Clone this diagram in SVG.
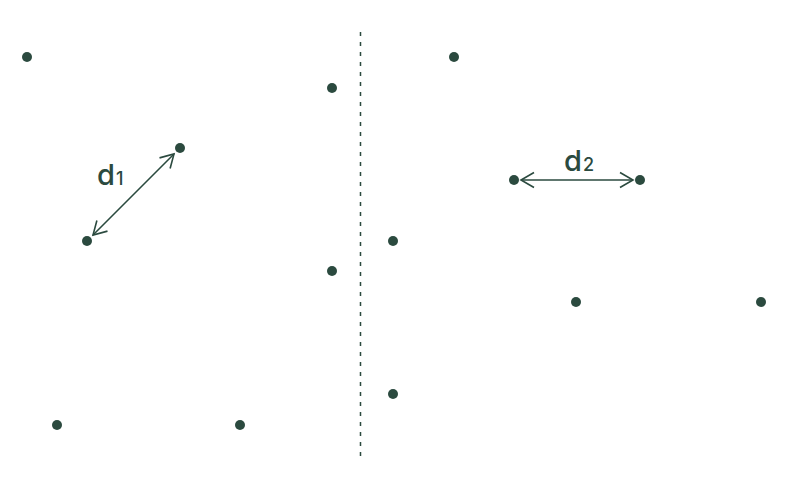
<svg xmlns="http://www.w3.org/2000/svg" width="804" height="486" viewBox="0 0 804 486">
<style>
.dot{fill:#2b4a3f}
.conn{stroke:#2b4a3f;stroke-width:1.6;fill:none}
.lbl{font-family:Inter,"Liberation Sans",sans-serif;font-size:29px;font-weight:500;fill:#2b4a3f}
.sub{font-size:18px}
</style>
<defs>
<marker id="chev" viewBox="-15 -10 17 20" markerWidth="17" markerHeight="20" refX="0" refY="0" orient="auto-start-reverse" markerUnits="userSpaceOnUse">
<path d="M-13,-7.5 L0,0 L-13,7.5" fill="none" stroke="#2b4a3f" stroke-width="1.6"/>
</marker>
</defs>
<rect width="804" height="486" fill="#ffffff"/>
<g id="divider">
<line x1="360.5" y1="32" x2="360.5" y2="458" stroke="#2b4a3f" stroke-width="1.5" stroke-dasharray="4 6"/>
</g>
<g id="connectors">
<line class="conn" x1="93" y1="235" x2="174" y2="154" marker-start="url(#chev)" marker-end="url(#chev)"/>
<line class="conn" x1="521" y1="180" x2="633" y2="180" marker-start="url(#chev)" marker-end="url(#chev)"/>
</g>
<g id="labels">
<text class="lbl" x="97" y="185">d<tspan class="sub" dx="1">1</tspan></text>
<text class="lbl" x="564" y="171">d<tspan class="sub" dx="1">2</tspan></text>
</g>
<g id="p1"><circle class="dot" cx="27" cy="57" r="5"/></g>
<g id="p2"><circle class="dot" cx="332" cy="88" r="5"/></g>
<g id="p3"><circle class="dot" cx="180" cy="148" r="5"/></g>
<g id="p4"><circle class="dot" cx="87" cy="241" r="5"/></g>
<g id="p5"><circle class="dot" cx="332" cy="271" r="5"/></g>
<g id="p6"><circle class="dot" cx="57" cy="425" r="5"/></g>
<g id="p7"><circle class="dot" cx="240" cy="425" r="5"/></g>
<g id="q1"><circle class="dot" cx="454" cy="57" r="5"/></g>
<g id="q2"><circle class="dot" cx="514" cy="180" r="5"/></g>
<g id="q3"><circle class="dot" cx="640" cy="180" r="5"/></g>
<g id="q4"><circle class="dot" cx="393" cy="241" r="5"/></g>
<g id="q5"><circle class="dot" cx="576" cy="302" r="5"/></g>
<g id="q6"><circle class="dot" cx="761" cy="302" r="5"/></g>
<g id="q7"><circle class="dot" cx="393" cy="394" r="5"/></g>
</svg>
